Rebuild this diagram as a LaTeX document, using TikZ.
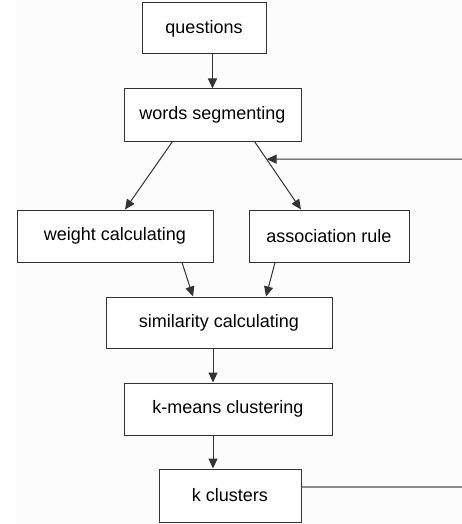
\documentclass[tikz,border=0pt]{standalone}
\usepackage{fontspec}
\setmainfont{Liberation Sans}
\usetikzlibrary{arrows.meta}
\usetikzlibrary{calc}
\tikzset{b/.style={draw=black!80, line width=1pt, fill=white, inner sep=0pt}}
\tikzset{>={Triangle[length=10pt,width=9pt]}}

\begin{document}
\begin{tikzpicture}[x=1pt, y=-1pt]
        \useasboundingbox (0,0) rectangle (462,524);
        \fill[black!1] (16,0) rectangle (462,524);
        \begin{scope}[font=\fontsize{18}{18}\selectfont, line width=1pt, draw=black!80]
          \node[b, minimum width=124pt, minimum height=51pt] (Q) at (204,28.5) {questions};
          \node[b, minimum width=177pt, minimum height=52pt] (WS) at (212.5,115) {words segmenting};
          \node[b, minimum width=196pt, minimum height=52pt] (WC) at (115,236) {weight calculating};
          \node[b, minimum width=160pt, minimum height=52pt] (AR) at (329,236) {association rule};
          \node[b, minimum width=226pt, minimum height=51pt] (SC) at (219,322.5) {similarity calculating};
          \node[b, minimum width=208pt, minimum height=52pt] (KM) at (228,409) {k-means clustering};
          \node[b, minimum width=142pt, minimum height=53pt] (KC) at (230,495.5) {k clusters};
          \coordinate (FB) at (462,159);
          \coordinate (E) at (462,487);
          \coordinate (J) at ($([xshift=42pt]WS.south)!0.26!([xshift=-28pt]AR.north)$);
          \draw[->] (Q.south -| WS.north) -- (WS.north);
          \draw[->] ([xshift=-40pt]WS.south) -- ([xshift=10pt]WC.north);
          \draw[->] ([xshift=42pt]WS.south) -- ([xshift=-28pt]AR.north);
          \draw[->] (FB) -- (J);
          \draw[->] ([xshift=67pt]WC.south) -- ([xshift=-26pt]SC.north);
          \draw[->] ([xshift=-54pt]AR.south) -- ([xshift=47pt]SC.north);
          \draw[->] ([xshift=-6pt]SC.south) -- ([xshift=-15pt]KM.north);
          \draw[->] ([xshift=-15pt]KM.south) -- ([xshift=-17pt]KC.north);
          \draw[black!45, line width=2pt] ([yshift=8.5pt]KC.east) -- (E);
        \end{scope}
\end{tikzpicture}
\end{document}
